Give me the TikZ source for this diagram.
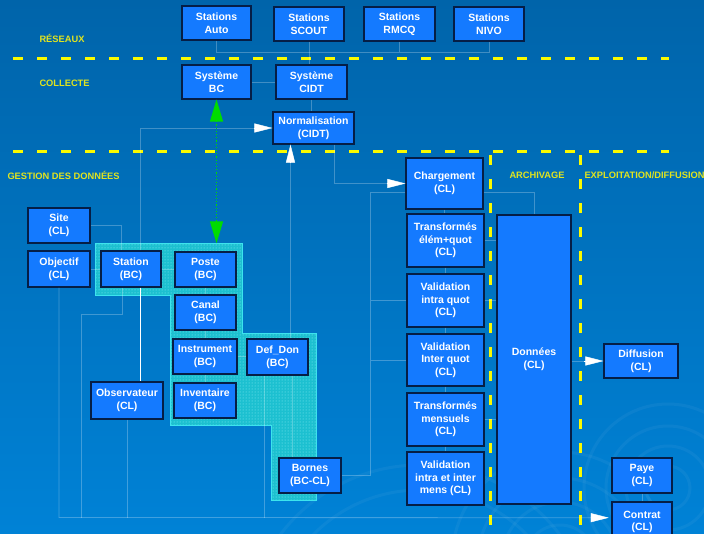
\documentclass[tikz,border=0pt]{standalone}
\usepackage{fontspec}
\setmainfont{Liberation Sans}
\usetikzlibrary{arrows.meta,patterns}
\definecolor{bgtop}{RGB}{0,100,170}
\definecolor{bgbot}{RGB}{0,130,214}
\definecolor{boxfill}{RGB}{20,122,255}
\definecolor{boxline}{RGB}{5,30,70}
\definecolor{cyanfill}{RGB}{28,192,208}
\definecolor{cyanline}{RGB}{60,228,238}
\definecolor{lbl}{RGB}{225,228,30}
\definecolor{dashy}{RGB}{250,250,0}
\definecolor{grn}{RGB}{0,220,0}
\tikzset{
  box/.style={draw=boxline, line width=1.1pt, fill=boxfill, text=white,
    font=\bfseries\fontsize{10.5}{12.6}\selectfont, align=center, inner sep=1pt},
  faint/.style={draw=white, draw opacity=0.25, line width=0.8pt},
  wline/.style={draw=white, line width=0.9pt},
  sect/.style={text=lbl, font=\bfseries\fontsize{9.3}{11}\selectfont, inner sep=0pt},
  ydash/.style={draw=dashy, line width=3pt, dash pattern=on 10pt off 14pt},
  tipw/.style={draw=white, fill=white, line width=0.4pt, -{Triangle[length=18pt,width=9pt]}},
  greenarrow/.style={draw=grn, line width=1.2pt, dotted,
    {Triangle[length=22pt,width=13pt,fill=grn]}-{Triangle[length=22pt,width=13pt,fill=grn]}},
  swirl/.style={draw=white, draw opacity=0.045, line width=3pt}
}
\newcommand\bx[6]{%
  \pgfmathsetmacro\bxw{#4-#2}\pgfmathsetmacro\bxh{#5-#3}%
  \pgfmathsetmacro\bxx{(#2+#4)/2}\pgfmathsetmacro\bxy{(#3+#5)/2}%
  \node[box,minimum width=\bxw pt,minimum height=\bxh pt] (#1) at (\bxx,\bxy) {#6};}
\begin{document}
\begin{tikzpicture}[x=1pt,y=-1pt]
\useasboundingbox (0,0) rectangle (704,533);
\clip (0,0) rectangle (704,533);
% background
\shade[top color=bgtop, bottom color=bgbot] (0,0) rectangle (704,533);
\foreach \r in {35,58,82,108} \draw[swirl] (560,560) circle (\r);
\foreach \r in {22,42,62,84} \draw[swirl] (668,488) circle (\r);
\foreach \r in {150,175} \draw[swirl] (420,640) circle (\r);

% section separators
\draw[ydash] (13,58.3) -- (669,58.3);
\draw[ydash] (13,151.7) -- (669,151.7);
\draw[ydash] (490.7,155) -- (490.7,540);
\draw[ydash] (580,155) -- (580,540);

% section labels
\node[sect, anchor=west] (lres) at (39.3,38.3) {RÉSEAUX};
\node[sect, anchor=west] (lcol) at (39.3,83.3) {COLLECTE};
\node[sect, anchor=west] (lges) at (7.3,175.7) {GESTION DES DONNÉES};
\node[sect, anchor=west] (larc) at (509.3,175.7) {ARCHIVAGE};
\node[sect, anchor=west] (lexp) at (584.3,175.7) {EXPLOITATION/DIFFUSION};

% cyan region (BC database)
\coordinate (cy1) at (95.3,243.3);
\coordinate (cy2) at (242.3,243.3);
\coordinate (cy3) at (242.3,333.5);
\coordinate (cy4) at (316.7,333.5);
\coordinate (cy5) at (316.7,500);
\coordinate (cy6) at (271.3,500);
\coordinate (cy7) at (271.3,425);
\coordinate (cy8) at (170,425);
\coordinate (cy9) at (170,295.3);
\coordinate (cy10) at (95.3,295.3);
\fill[cyanfill] (cy1)--(cy2)--(cy3)--(cy4)--(cy5)--(cy6)--(cy7)--(cy8)--(cy9)--(cy10)--cycle;
\fill[pattern=dots, pattern color=cyanline!60!white] (cy1)--(cy2)--(cy3)--(cy4)--(cy5)--(cy6)--(cy7)--(cy8)--(cy9)--(cy10)--cycle;
\draw[cyanline, line width=1pt] (cy1)--(cy2)--(cy3)--(cy4)--(cy5)--(cy6)--(cy7)--(cy8)--(cy9)--(cy10)--cycle;

% boxes
\bx{auto}{182}{6}{251}{40}{Stations\\Auto}
\bx{scout}{274}{7}{344}{41}{Stations\\SCOUT}
\bx{rmcq}{364}{7}{435}{41}{Stations\\RMCQ}
\bx{nivo}{454}{7}{524}{41}{Stations\\NIVO}
\bx{sysbc}{182}{65}{251}{99}{Système\\BC}
\bx{syscidt}{276}{65}{347}{99}{Système\\CIDT}
\bx{norm}{273}{112}{354}{144}{Normalisation\\(CIDT)}
\bx{site}{28}{208}{90}{243}{Site\\(CL)}
\bx{objectif}{28}{251}{90}{287}{Objectif\\(CL)}
\bx{station}{101}{251}{161}{287}{Station\\(BC)}
\bx{poste}{175}{252}{236}{287}{Poste\\(BC)}
\bx{canal}{175}{295}{236}{330}{Canal\\(BC)}
\bx{instrument}{173}{339}{237}{374}{Instrument\\(BC)}
\bx{defdon}{247}{339}{308}{375}{Def\_Don\\(BC)}
\bx{inventaire}{174}{383}{236}{418}{Inventaire\\(BC)}
\bx{bornes}{279}{458}{341}{493}{Bornes\\(BC-CL)}
\bx{observ}{91}{382}{163}{419}{Observateur\\(CL)}
\bx{charg}{406}{158}{483}{209}{Chargement\\(CL)}
\bx{trans1}{407}{214}{484}{267}{Transformés\\élém+quot\\(CL)}
\bx{valiq}{407}{274}{484}{327}{Validation\\intra quot\\(CL)}
\bx{valinq}{407}{334}{484}{386}{Validation\\Inter quot\\(CL)}
\bx{transm}{407}{393}{484}{446}{Transformés\\mensuels\\(CL)}
\bx{valmens}{407}{452}{484}{505}{Validation\\intra et inter\\mens (CL)}
\bx{donnees}{497}{215}{571}{504}{Données\\(CL)}
\bx{diffusion}{604}{344}{678}{378}{Diffusion\\(CL)}
\bx{paye}{612}{458}{672}{493}{Paye\\(CL)}
\bx{contrat}{612}{502}{672}{542}{Contrat\\(CL)}

% helper coordinates
\coordinate (bus) at (0,52.3);
\coordinate (bot) at (0,517.5);
\coordinate (c81) at (81.3,517.5);
\coordinate (trk) at (370.7,0);

% network bus
\draw[faint] (auto.south) -- (auto.south |- bus) -- (nivo.south |- bus) -- (nivo.south);
\draw[faint] (rmcq.south) -- (rmcq.south |- bus);
\draw[faint] (scout.south) -- (scout.south |- syscidt.north);
\draw[faint] (sysbc.east) -- (syscidt.west);
\draw[faint] (syscidt.south) -- (syscidt.south |- norm.north);

% into Normalisation
\draw[faint] ([xshift=9pt]station.north) |- ([xshift=-18pt]norm.west);
\draw[tipw] ([xshift=-18pt]norm.west) -- (norm.west);
\coordinate (tipB) at ([xshift=-23pt]norm.south);
\draw[faint] (tipB |- defdon.north) -- ([yshift=-17.7pt]tipB);
\draw[tipw] ([yshift=-17.7pt]tipB) -- (tipB);
% Normalisation to Chargement
\draw[faint] ([xshift=20.5pt]norm.south) |- ([xshift=-18pt]charg.west);
\draw[tipw] ([xshift=-18pt]charg.west) -- (charg.west);

% green link
\draw[greenarrow] (sysbc.south) -- (sysbc.south |- cy1);

% left group
\draw[faint] (site.east) -| ([xshift=-9.3pt]station.north);
\draw[faint] (objectif.east) -- (station.west);
\draw[faint] (station.east) -- (station.east -| poste.west);
\draw[faint] (poste.south) -- (poste.south |- canal.north);
\draw[faint] (canal.south) -- (canal.south |- instrument.north);
\draw[faint] (instrument.south) -- (instrument.south |- inventaire.north);
\draw[faint] (instrument.east) -- (instrument.east -| defdon.west);
\draw[faint] ([xshift=14.8pt]defdon.south) -- ([xshift=-17.7pt]bornes.north);
\draw[wline] ([xshift=9pt]station.south) -- ([xshift=13pt]observ.north);

% bottom bus
\coordinate (tipC) at ([xshift=-2.7pt,yshift=4.3pt]contrat.west);
\draw[faint] (objectif.south) -- (objectif.south |- bot) -- ([xshift=-18pt]tipC);
\draw[tipw] ([xshift=-18pt]tipC) -- (tipC);
\draw[faint] ([xshift=-8.3pt]station.south) -- ++(0,27.3) -| (c81);
\draw[faint] (observ.south) -- (observ.south |- bot);
\draw[faint] ([xshift=-13.2pt]defdon.south) -- ([xshift=-13.2pt]defdon.south |- bot);

% trunk to processing chain
\draw[faint] ([yshift=-9.2pt]charg.west) -| (trk |- bornes.east) -- (bornes.east);
\draw[faint] (valiq.west) -- (valiq.west -| trk);
\draw[faint] (valinq.west) -- (valinq.west -| trk);

% processing chain
\draw[faint] (charg.south) -- (charg.south |- trans1.north);
\draw[faint] (trans1.south) -- (trans1.south |- valiq.north);
\draw[faint] (valiq.south) -- (valiq.south |- valinq.north);
\draw[faint] (valinq.south) -- (valinq.south |- transm.north);
\draw[faint] (transm.south) -- (transm.south |- valmens.north);

% to archive
\draw[faint] ([yshift=-9.2pt]charg.east) -| (donnees.north);
\draw[faint] (trans1.east) -- (trans1.east -| donnees.west);
\draw[faint] (valiq.east) -- (valiq.east -| donnees.west);
\draw[faint] (transm.east) -- (transm.east -| donnees.west);

% diffusion
\draw[faint] (donnees.east |- diffusion.west) -- ([xshift=-19pt]diffusion.west);
\draw[tipw] ([xshift=-19pt]diffusion.west) -- (diffusion.west);
\draw[faint] (paye.south) -- (contrat.north);
\end{tikzpicture}
\end{document}
